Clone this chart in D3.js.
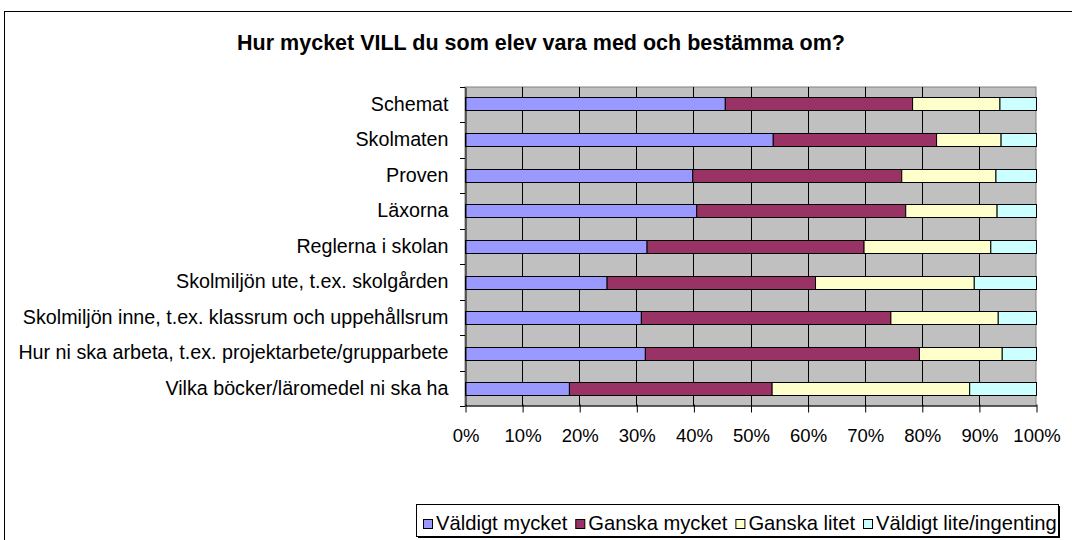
<!DOCTYPE html>
<html>
<head>
<meta charset="utf-8">
<script src="https://cdn.jsdelivr.net/npm/d3@7"></script>
<style>
  html, body { margin: 0; padding: 0; background: #fff; }
  svg { display: block; font-family: "Liberation Sans", Arial, sans-serif; }
</style>
</head>
<body>
<svg id="chart" width="1072" height="540"></svg>
<script>
const categories = [
  "Schemat",
  "Skolmaten",
  "Proven",
  "Läxorna",
  "Reglerna i skolan",
  "Skolmiljön ute, t.ex. skolgården",
  "Skolmiljön inne, t.ex. klassrum och uppehållsrum",
  "Hur ni ska arbeta, t.ex. projektarbete/grupparbete",
  "Vilka böcker/läromedel ni ska ha"
];
const seriesNames = ["Väldigt mycket", "Ganska mycket", "Ganska litet", "Väldigt lite/ingenting"];
const valdigtMycket = [45.5, 53.9, 39.8, 40.5, 31.8, 24.8, 30.8, 31.5, 18.2];
const ganskaMycket  = [32.8, 28.6, 36.6, 36.6, 38.0, 36.5, 43.7, 48.0, 35.5];
const ganskaLitet   = [15.3, 11.3, 16.5, 16.0, 22.2, 27.8, 18.8, 14.5, 34.6];
const valdigtLite   = [6.4, 6.2, 7.1, 6.9, 8.0, 10.9, 6.7, 6.0, 11.7];
const tickValues = [0, 0.1, 0.2, 0.3, 0.4, 0.5, 0.6, 0.7, 0.8, 0.9, 1.0];
const title = "Hur mycket VILL du som elev vara med och bestämma om?";
const colors = ["#9999FF", "#993366", "#FFFFCC", "#CCFFFF"];

const svg = d3.select("#chart");

// outer chart frame
svg.append("rect").attr("x", 4.5).attr("y", 11.5).attr("width", 1100).attr("height", 600)
  .attr("fill", "#fff").attr("stroke", "#000").attr("stroke-width", 1);

svg.append("text").attr("x", 541).attr("y", 50).attr("text-anchor", "middle")
  .attr("font-size", 21.5).attr("font-weight", "bold").text(title);

const pLeft = 465, pRight = 1036, pTop = 87, pBottom = 406;

const rows = categories.map((c, i) => {
  const vals = [valdigtMycket[i], ganskaMycket[i], ganskaLitet[i], valdigtLite[i]];
  const tot = d3.sum(vals);
  const o = { cat: c };
  seriesNames.forEach((s, j) => o[s] = vals[j] / tot);
  return o;
});
const stacked = d3.stack().keys(seriesNames)(rows);

const x = d3.scaleLinear().domain([0, 1]).range([pLeft, pRight]);
const y = d3.scaleBand().domain(categories).range([pTop, pBottom]).paddingInner(0.63).paddingOuter(0.29);
const yOuter = d3.scaleBand().domain(categories).range([pTop, pBottom]);

// plot area
svg.append("rect").attr("x", pLeft).attr("y", pTop).attr("width", pRight - pLeft).attr("height", pBottom - pTop)
  .attr("fill", "#C0C0C0").attr("stroke", "#808080").attr("stroke-width", 1);

// vertical gridlines
svg.append("g").selectAll("line").data(tickValues.slice(1, -1)).join("line")
  .attr("x1", d => Math.round(x(d)) + 0.5).attr("x2", d => Math.round(x(d)) + 0.5)
  .attr("y1", pTop).attr("y2", pBottom).attr("stroke", "#000").attr("stroke-width", 1);

// bars
svg.append("g").selectAll("g").data(stacked).join("g")
  .attr("fill", (d, i) => colors[i])
  .selectAll("rect").data(d => d).join("rect")
  .attr("x", d => x(d[0]) + 0.5)
  .attr("width", d => x(d[1]) - x(d[0]))
  .attr("y", d => Math.round(y(d.data.cat)) + 0.5)
  .attr("height", Math.round(y.bandwidth()))
  .attr("stroke", "#000").attr("stroke-width", 1);

// x axis
const xAxis = d3.axisBottom(x).tickValues(tickValues).tickFormat(d3.format(".0%"))
  .tickSizeInner(7).tickSizeOuter(0).tickPadding(16);
const gx = svg.append("g").attr("transform", `translate(0.5,${pBottom - 0.5})`).call(xAxis);
gx.select(".domain").attr("stroke", "#000");
gx.selectAll(".tick line").attr("stroke", "#000").attr("y1", -1);
gx.selectAll(".tick text").attr("font-size", 18.5).attr("font-family", "Liberation Sans, Arial, sans-serif").attr("fill", "#000");

// y axis
const yAxis = d3.axisLeft(yOuter).tickSize(0).tickPadding(17);
const gy = svg.append("g").attr("transform", `translate(${pLeft + 0.5},0)`).call(yAxis);
gy.select(".domain").attr("stroke", "#000");
gy.selectAll(".tick text").attr("font-size", 19.7).attr("font-family", "Liberation Sans, Arial, sans-serif").attr("fill", "#000");
// category boundary ticks
svg.append("g").selectAll("line").data(d3.range(categories.length + 1)).join("line")
  .attr("x1", pLeft - 5).attr("x2", pLeft)
  .attr("y1", i => Math.round(pTop + i * yOuter.step()) + 0.5)
  .attr("y2", i => Math.round(pTop + i * yOuter.step()) + 0.5)
  .attr("stroke", "#000");

// legend
const lg = svg.append("g");
lg.append("rect").attr("x", 418).attr("y", 506).attr("width", 642).attr("height", 32).attr("fill", "#000");
lg.append("rect").attr("x", 416.5).attr("y", 504.5).attr("width", 642).attr("height", 32)
  .attr("fill", "#fff").attr("stroke", "#000");
let cx = 423;
seriesNames.forEach((s, i) => {
  const g = lg.append("g").attr("transform", `translate(${cx},0)`);
  g.append("rect").attr("x", 0.5).attr("y", 519.5).attr("width", 9).attr("height", 9)
    .attr("fill", colors[i]).attr("stroke", "#000");
  const t = g.append("text").attr("x", 13).attr("y", 530).attr("font-size", 20.2).text(s);
  cx += 13 + t.node().getComputedTextLength() + 8;
});
</script>
</body>
</html>
